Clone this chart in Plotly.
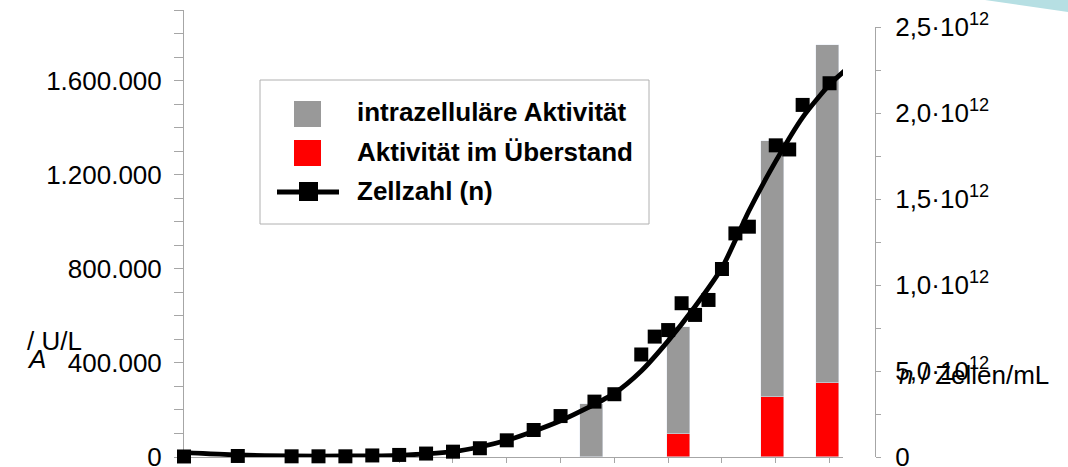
import plotly.graph_objects as go

# --- data -------------------------------------------------------------
# cell count measurements (time in h, cells per mL)
zeit_h = [0, 1, 2, 2.5, 3, 3.5, 4, 4.5, 5, 5.5, 6, 6.5, 7, 7.63, 8, 8.5, 8.75,
          9, 9.25, 9.5, 9.75, 10, 10.25, 10.5, 11, 11.25, 11.5, 12]
zellzahl = [0.003e12, 0.006e12, 0.004e12, 0.004e12, 0.004e12, 0.009e12, 0.012e12,
            0.020e12, 0.031e12, 0.051e12, 0.097e12, 0.157e12, 0.238e12, 0.322e12,
            0.365e12, 0.596e12, 0.700e12, 0.738e12, 0.894e12, 0.826e12, 0.913e12,
            1.093e12, 1.300e12, 1.339e12, 1.812e12, 1.788e12, 2.047e12, 2.173e12]

# fitted growth curve
fit_h = [0, 1, 2, 3, 4, 5, 5.5, 6, 6.5, 7, 7.5, 8, 8.5, 9, 9.5, 10, 10.5, 11,
         11.5, 12, 12.28]
fit_n = [0.025e12, 0.012e12, 0.006e12, 0.006e12, 0.010e12, 0.031e12, 0.058e12,
         0.097e12, 0.150e12, 0.211e12, 0.285e12, 0.370e12, 0.500e12, 0.675e12,
         0.875e12, 1.100e12, 1.430e12, 1.720e12, 1.975e12, 2.165e12, 2.245e12]

# enzyme activity samples (U/L)
probe_h = [7.58, 9.2, 10.94, 11.96]
aktivitaet_ueberstand = [0, 98000, 255000, 315000]
aktivitaet_intra = [225000, 456000, 1088000, 1436000]

left_ticks = [0, 400000, 800000, 1200000, 1600000]
right_ticks = [0, 0.5e12, 1.0e12, 1.5e12, 2.0e12, 2.5e12]
right_labels = ["0", "5,0·10<sup>12</sup>", "1,0·10<sup>12</sup>", "1,5·10<sup>12</sup>",
                "2,0·10<sup>12</sup>", "2,5·10<sup>12</sup>"]

FONT = "Liberation Sans, Arial, sans-serif"
AXIS_GRAY = "#a6a6a6"
BAR_GRAY = "#999999"

# plot area in pixels (inside margins)
PL, PR, PT, PB = 184, 875, 10, 457


def px(x):
    return (x - PL) / (PR - PL)


def py(y):
    return (PB - y) / (PB - PT)


fig = go.Figure()

fig.add_trace(go.Bar(x=probe_h, y=aktivitaet_ueberstand, marker_color="#ff0000",
                     width=0.43, name="Aktivität im Überstand", showlegend=False,
                     xaxis="x", yaxis="y"))
fig.add_trace(go.Bar(x=probe_h, y=aktivitaet_intra, marker_color=BAR_GRAY,
                     width=0.43, name="intrazelluläre Aktivität", showlegend=False,
                     xaxis="x", yaxis="y"))

fig.add_trace(go.Scatter(x=fit_h, y=fit_n, mode="lines", line=dict(color="black", width=4.8,
                         shape="spline", smoothing=0.7), showlegend=False,
                         xaxis="x", yaxis="y2", hoverinfo="skip"))
fig.add_trace(go.Scatter(x=zeit_h, y=zellzahl, mode="markers",
                         marker=dict(symbol="square", size=14, color="black"),
                         name="Zellzahl (n)", showlegend=False, cliponaxis=False,
                         xaxis="x", yaxis="y2"))

shapes = []
# decorative corner wedge
shapes.append(dict(type="path", xref="paper", yref="paper", layer="below",
                   path=f"M {px(985)} {py(0)} L {px(1068)} {py(0)} L {px(1068)} {py(12)} Z",
                   fillcolor="#b6dfe3", line=dict(width=0)))
# legend frame
shapes.append(dict(type="rect", xref="paper", yref="paper",
                   x0=px(260), x1=px(649), y0=py(80), y1=py(224),
                   line=dict(color="#b0b0b0", width=1), fillcolor="white", layer="below"))
shapes.append(dict(type="rect", xref="paper", yref="paper",
                   x0=px(294), x1=px(321), y0=py(101), y1=py(127),
                   line=dict(width=0), fillcolor=BAR_GRAY))
shapes.append(dict(type="rect", xref="paper", yref="paper",
                   x0=px(294), x1=px(321), y0=py(140), y1=py(166),
                   line=dict(width=0), fillcolor="#ff0000"))
shapes.append(dict(type="line", xref="paper", yref="paper",
                   x0=px(277), x1=px(339), y0=py(192), y1=py(192),
                   line=dict(color="black", width=5)))
shapes.append(dict(type="rect", xref="paper", yref="paper",
                   x0=px(299), x1=px(318), y0=py(182), y1=py(201),
                   line=dict(width=0), fillcolor="black"))

annotations = []
for text, yc in [("<b>intrazelluläre Aktivität</b>", 112),
                 ("<b>Aktivität im Überstand</b>", 152),
                 ("<b>Zellzahl (n)</b>", 191)]:
    annotations.append(dict(text=text, xref="paper", yref="paper", x=px(355), y=py(yc),
                            xanchor="left", yanchor="middle", showarrow=False,
                            font=dict(size=26, color="black", family=FONT)))

# axis titles
annotations.append(dict(text="/ U/L", xref="paper", yref="paper", x=px(25), y=py(341),
                        xanchor="left", yanchor="middle", showarrow=False,
                        font=dict(size=26, color="black", family=FONT)))
annotations.append(dict(text="<i>A</i>", xref="paper", yref="paper", x=px(25), y=py(359),
                        xanchor="left", yanchor="middle", showarrow=False,
                        font=dict(size=26, color="black", family=FONT)))
annotations.append(dict(text="<i>n</i> / Zellen/mL", xref="paper", yref="paper",
                        x=px(897), y=py(375), xanchor="left", yanchor="middle",
                        showarrow=False, font=dict(size=26, color="black", family=FONT)))

fig.update_layout(
    width=1068, height=467,
    margin=dict(l=PL, r=1068 - PR, t=PT, b=467 - PB, pad=0, autoexpand=False),
    paper_bgcolor="white", plot_bgcolor="rgba(0,0,0,0)",
    barmode="stack", bargap=0,
    separators=",.",
    font=dict(family=FONT, size=26, color="black"),
    shapes=shapes, annotations=annotations,
    xaxis=dict(domain=[0, px(843)], range=[0, 12.25], anchor="y", automargin=False,
               showline=True, linecolor=AXIS_GRAY, linewidth=1,
               ticks="outside", tick0=0, dtick=1, ticklen=5, tickcolor=AXIS_GRAY,
               showticklabels=False, showgrid=False, zeroline=False),
    yaxis=dict(domain=[0, 1], range=[0, 1.9e6], anchor="x", automargin=False,
               showline=True, linecolor=AXIS_GRAY, linewidth=1,
               ticks="outside", ticklen=9, tickcolor=AXIS_GRAY,
               tickvals=left_ticks, tickformat=",d", ticklabeloverflow="allow",
               minor=dict(dtick=100000, tick0=0, ticks="outside", ticklen=9,
                          tickcolor=AXIS_GRAY, showgrid=False),
               tickfont=dict(size=26, color="black", family=FONT),
               ticklabelstandoff=7,
               showgrid=False, zeroline=False),
    yaxis2=dict(domain=[0, py(27)], range=[0, 2.5e12], anchor="free", position=1,
                side="right", automargin=False,
                showline=True, linecolor=AXIS_GRAY, linewidth=1,
                ticks="outside", ticklen=5, tickcolor=AXIS_GRAY,
                tickvals=right_ticks, ticktext=right_labels, ticklabeloverflow="allow",
                minor=dict(dtick=0.25e12, tick0=0, ticks="outside", ticklen=5,
                           tickcolor=AXIS_GRAY, showgrid=False),
                tickfont=dict(size=26, color="black", family=FONT),
                ticklabelstandoff=9,
                showgrid=False, zeroline=False),
)

fig.write_html("out.html")
